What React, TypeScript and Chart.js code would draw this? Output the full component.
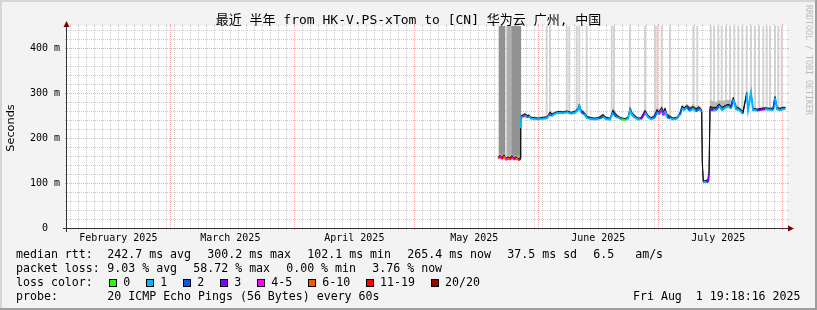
import React, { useEffect, useRef } from 'react';
import { Chart, registerables } from 'chart.js';

Chart.register(...registerables);

// ---------- texts ----------
const TITLE = '最近 半年 from HK-V.PS-xTom to [CN] 华为云 广州, 中国';
const Y_AXIS_TITLE = 'Seconds';
const SIDE_TEXT = 'RRDTOOL / TOBI OETIKER';

// ---------- axes (x in days since 2025-02-01 00:00) ----------
const X_MIN = 2.175;
const X_MAX = 182.175;
const Y_MAX = 448.9;
const monthStarts = [0, 28, 59, 89, 120, 150, 181];
const monthLabels = ['February 2025', 'March 2025', 'April 2025', 'May 2025', 'June 2025', 'July 2025'];
const yTickValues = [0, 100, 200, 300, 400];
const yTickLabels = ['0  ', '100 m', '200 m', '300 m', '400 m'];

// ---------- series ----------
const days = [
  110.0, 110.43, 110.93, 111.43, 111.93, 112.43, 112.93, 113.43, 113.93, 114.43,
  114.93, 115.43, 115.6, 115.75, 116.18, 116.68, 117.18, 117.68, 118.18, 119.18,
  120.18, 120.43, 121.18, 122.18, 122.68, 122.93, 123.43, 124.18, 125.18, 126.18,
  127.18, 128.18, 129.18, 129.93, 130.25, 130.68, 131.43, 132.18, 133.18, 134.18,
  135.18, 136.18, 136.93, 137.93, 138.68, 139.43, 140.18, 140.93, 141.68, 142.43,
  142.93, 143.43, 144.18, 144.93, 145.68, 146.68, 147.43, 148.18, 148.93, 149.68,
  150.18, 150.85, 151.3, 151.68, 152.18, 152.93, 153.68, 154.68, 155.43, 155.93,
  156.43, 157.18, 157.93, 158.68, 159.43, 160.18, 160.85, 161.0, 161.25, 161.93,
  162.43, 162.68, 162.93, 163.68, 164.43, 165.18, 165.93, 166.68, 167.43, 168.18,
  168.75, 169.43, 170.18, 171.18, 172.1, 172.43, 173.18, 173.68, 174.68, 175.68,
  176.68, 177.68, 178.68, 179.18, 179.68, 180.43, 181.18, 181.8,
];
const median = [
  155, 158, 153, 160, 151, 154, 152, 157, 152, 155,
  151, 152, 222, 246, 247, 249, 246, 248, 243, 242,
  241, 242, 243, 244, 250, 253, 249, 254, 256, 255,
  257, 254, 256, 262, 271, 258, 253, 244, 242, 241,
  243, 247, 242, 241, 257, 247, 244, 241, 240, 243,
  262, 251, 245, 241, 242, 256, 246, 242, 244, 257,
  252, 262, 250, 260, 246, 244, 241, 243, 252, 266,
  262, 268, 260, 265, 259, 264, 258, 144, 101, 103,
  102, 120, 264, 261, 262, 271, 262, 267, 270, 266,
  286, 264, 262, 254, 299, 262, 300, 262, 261, 263,
  264, 263, 262, 289, 264, 262, 264, 265,
];
// loss bucket index into lossLabels
const lossIdx = [
  5, 6, 4, 6, 5, 4, 5, 6, 4, 6,
  5, 6, 3, 1, 1, 4, 1, 2, 1, 1,
  1, 0, 1, 1, 1, 4, 2, 1, 1, 1,
  1, 1, 1, 1, 1, 1, 2, 1, 1, 1,
  1, 2, 1, 1, 1, 2, 1, 1, 0, 1,
  1, 1, 1, 1, 1, 3, 1, 1, 1, 2,
  1, 4, 2, 4, 1, 2, 1, 1, 1, 2,
  1, 1, 2, 1, 1, 2, 1, 1, 1, 1,
  2, 3, 3, 3, 1, 2, 1, 1, 1, 1,
  2, 1, 1, 1, 1, 1, 1, 1, 1, 3,
  3, 1, 1, 2, 1, 1, 1, 1,
];
const smokeHi = [
  158, 161, 157, 163, 155, 158, 156, 161, 155, 159,
  154, 156, 226, 250, 251, 254, 250, 251, 246, 245,
  244, 245, 246, 247, 254, 258, 253, 257, 259, 258,
  260, 257, 259, 266, 275, 262, 257, 248, 245, 244,
  246, 252, 246, 244, 262, 252, 247, 244, 243, 246,
  267, 256, 249, 244, 245, 261, 250, 245, 248, 263,
  258, 268, 258, 266, 252, 248, 244, 246, 256, 271,
  267, 272, 266, 270, 265, 269, 262, 148, 104, 106,
  106, 124, 270, 268, 268, 276, 268, 272, 275, 272,
  290, 269, 266, 259, 301, 266, 302, 266, 264, 266,
  267, 266, 266, 292, 268, 266, 268, 268,
];
const smokeUp = [
  162, 166, 160, 168, 158, 161, 160, 165, 159, 163,
  158, 160, 228, 252, 254, 256, 252, 253, 248, 247,
  246, 247, 248, 250, 258, 262, 256, 259, 261, 260,
  262, 259, 262, 270, 278, 265, 260, 250, 247, 246,
  248, 255, 248, 246, 268, 256, 250, 246, 245, 249,
  272, 260, 252, 246, 247, 266, 253, 247, 252, 268,
  264, 272, 264, 270, 256, 251, 246, 248, 259, 275,
  271, 276, 270, 275, 270, 273, 266, 150, 106, 108,
  110, 126, 284, 282, 280, 284, 282, 284, 285, 284,
  293, 276, 270, 263, 303, 270, 304, 268, 266, 268,
  269, 268, 268, 294, 270, 268, 270, 270,
];
// outlier smoke (pings far above the median), drawn up to the top
const SMOKE_CEIL = 449;
const outlierDays = [
  122.1, 122.93, 127.1, 127.75, 129.6, 130.25, 132.1, 138.35, 138.93, 142.93,
  146.68, 149.18, 149.75, 150.85, 152.93, 158.75, 159.75, 163.1, 163.93, 165.0,
  165.85, 166.93, 167.93, 169.0, 170.0, 171.0, 172.1, 173.18, 174.18, 175.18,
  176.25, 177.1, 177.93, 179.18, 180.0, 180.85,
];
const outlierLow = [
  250, 258, 260, 258, 262, 275, 250, 250, 255, 267,
  261, 250, 263, 268, 248, 270, 268, 270, 268, 272,
  268, 272, 275, 290, 266, 262, 301, 302, 266, 266,
  267, 268, 266, 292, 268, 268,
];
const heavyDays = [110.55, 111.3, 113.8, 114.55, 115.25];
const heavyLow = [160, 162, 160, 160, 158];
const mediumDays = [112.5, 113.13];
const mediumLow = [158, 158];

// ---------- legend ----------
const lossLabels = ['0', '1', '2', '3', '4-5', '6-10', '11-19', '20/20'];
const lossColors = ['#26ff00', '#00b8ff', '#0059ff', '#7e00ff', '#ff00ff', '#ff5500', '#ff0000', '#a10000'];
const medianStats = ['242.7 ms avg', '300.2 ms max', '102.1 ms min', '265.4 ms now', '37.5 ms sd', '6.5   am/s'];
const lossStats = ['9.03 % avg', '58.72 % max', '0.00 % min', '3.76 % now'];
const probeText = '20 ICMP Echo Pings (56 Bytes) every 60s';
const dateText = 'Fri Aug  1 19:18:16 2025';

// layout of legend pieces
const MED_X = [107.3, 207.3, 307.3, 407.3, 507.3, 593.3];
const LOSS_X = [107.3, 193.3, 286.2, 372.3];
const BOX_X = [108.7, 145.7, 182.7, 219.7, 256.7, 307.6, 365.5, 430.5];

const MONO = '"DejaVu Sans Mono", monospace';

const rrdPlugin = {
  id: 'rrdLook',
  beforeDraw(chart: any) {
    const { ctx, width, height, chartArea: a } = chart;
    ctx.save();
    ctx.fillStyle = '#f3f3f3';
    ctx.fillRect(0, 0, width, height);
    ctx.fillStyle = '#d6d6d6';
    ctx.fillRect(0, 0, width, 2);
    ctx.fillRect(0, 0, 2, height);
    ctx.fillStyle = '#9e9e9e';
    ctx.fillRect(0, height - 2, width, 2);
    ctx.fillRect(width - 2, 0, 2, height);
    ctx.fillStyle = '#ffffff';
    ctx.fillRect(a.left, a.top, a.right - a.left, a.bottom - a.top);
    ctx.restore();
  },
  beforeDatasetsDraw(chart: any) {
    const { ctx, chartArea: a, scales } = chart;
    const xs = scales.x;
    const ys = scales.y;
    const minorC = '#cfcfcf';
    const majorC = '#eea8a8';
    ctx.save();
    ctx.lineWidth = 1;
    const hline = (py: number, c: string, dash: boolean) => {
      ctx.strokeStyle = c;
      ctx.setLineDash(dash ? [1, 1] : []);
      ctx.beginPath();
      ctx.moveTo(a.left, py);
      ctx.lineTo(a.right, py);
      ctx.stroke();
      ctx.setLineDash([]);
      ctx.beginPath();
      ctx.moveTo(a.left - 2, py);
      ctx.lineTo(a.left, py);
      ctx.moveTo(a.right, py);
      ctx.lineTo(a.right + 2, py);
      ctx.stroke();
    };
    const vline = (px: number, c: string) => {
      ctx.strokeStyle = c;
      ctx.setLineDash([1, 1]);
      ctx.beginPath();
      ctx.moveTo(px, a.top);
      ctx.lineTo(px, a.bottom);
      ctx.stroke();
      ctx.setLineDash([]);
      ctx.beginPath();
      ctx.moveTo(px, a.top - 2);
      ctx.lineTo(px, a.top);
      ctx.moveTo(px, a.bottom);
      ctx.lineTo(px, a.bottom + 2);
      ctx.stroke();
    };
    for (let v = 20; v < Y_MAX; v += 20) {
      if (v % 100 === 0) continue;
      hline(Math.round(ys.getPixelForValue(v)) + 0.5, minorC, true);
    }
    for (let d = 3; d < X_MAX; d += 2) {
      if (monthStarts.includes(d)) continue;
      const px = Math.round(xs.getPixelForValue(d)) + 0.5;
      if (px <= a.left || px >= a.right) continue;
      vline(px, minorC);
    }
    yTickValues.forEach((v) => {
      if (v === 0) return;
      hline(Math.round(ys.getPixelForValue(v)) + 0.5, majorC, true);
    });
    monthStarts.forEach((d) => {
      const px = Math.round(xs.getPixelForValue(d)) + 0.5;
      if (px <= a.left || px >= a.right) return;
      vline(px, majorC);
    });
    ctx.restore();
  },
  afterDatasetsDraw(chart: any) {
    const { ctx, chartArea: a, scales, width } = chart;
    const xs = scales.x;
    const ys = scales.y;
    ctx.save();
    // axes
    const y0 = Math.round(ys.getPixelForValue(0)) + 0.5;
    const x0 = a.left - 0.5;
    ctx.strokeStyle = '#333333';
    ctx.lineWidth = 1;
    ctx.beginPath();
    ctx.moveTo(a.left - 4, y0);
    ctx.lineTo(a.right + 2, y0);
    ctx.moveTo(x0, a.bottom + 4);
    ctx.lineTo(x0, a.top - 2);
    ctx.stroke();
    ctx.fillStyle = '#7f0000';
    ctx.beginPath();
    ctx.moveTo(x0, a.top - 5);
    ctx.lineTo(x0 - 3, a.top + 1);
    ctx.lineTo(x0 + 3, a.top + 1);
    ctx.closePath();
    ctx.fill();
    ctx.beginPath();
    ctx.moveTo(a.right + 7, y0);
    ctx.lineTo(a.right + 1, y0 - 3);
    ctx.lineTo(a.right + 1, y0 + 3);
    ctx.closePath();
    ctx.fill();

    // y tick labels
    ctx.fillStyle = '#000';
    ctx.font = '10px ' + MONO;
    ctx.textAlign = 'right';
    ctx.textBaseline = 'middle';
    yTickValues.forEach((v, i) => {
      ctx.fillText(yTickLabels[i], 60, ys.getPixelForValue(v) + 0.5);
    });
    // month labels
    ctx.textAlign = 'center';
    monthLabels.forEach((lab, i) => {
      ctx.fillText(lab, xs.getPixelForValue(monthStarts[i] + 15), 238);
    });

    // title
    ctx.font = '13px "DejaVu Sans Mono", "Noto Sans CJK SC", monospace';
    ctx.fillText(TITLE, width / 2, 21);

    // y axis title
    ctx.save();
    ctx.translate(11, 128);
    ctx.rotate(-Math.PI / 2);
    ctx.font = '11.3px "DejaVu Sans", sans-serif';
    ctx.fillText(Y_AXIS_TITLE, 0, 0);
    ctx.restore();

    // side credit
    ctx.save();
    ctx.translate(808.5, 60);
    ctx.rotate(Math.PI / 2);
    ctx.fillStyle = '#bcbcbc';
    ctx.font = '8.3px ' + MONO;
    ctx.fillText(SIDE_TEXT, 0, 0);
    ctx.restore();

    // legend
    ctx.font = '11.6px ' + MONO;
    ctx.textAlign = 'left';
    ctx.fillStyle = '#000';
    ctx.fillText('median rtt:', 16, 254.5);
    medianStats.forEach((s, i) => ctx.fillText(s, MED_X[i], 254.5));
    ctx.fillText('packet loss:', 16, 268.5);
    lossStats.forEach((s, i) => ctx.fillText(s, LOSS_X[i], 268.5));
    ctx.fillText('loss color:', 16, 282.5);
    lossLabels.forEach((s, i) => {
      const bx = Math.round(BOX_X[i]);
      ctx.fillStyle = lossColors[i];
      ctx.fillRect(bx, 279, 8, 8);
      ctx.strokeStyle = '#000';
      ctx.strokeRect(bx + 0.5, 279.5, 7, 7);
      ctx.fillStyle = '#000';
      ctx.fillText(s, BOX_X[i] + 14.6, 282.5);
    });
    ctx.fillText('probe:', 16, 296.5);
    ctx.fillText(probeText, 107.3, 296.5);
    ctx.textAlign = 'right';
    ctx.fillText(dateText, 800.5, 296.5);
    ctx.restore();
  },
};

export default function App() {
  const ref = useRef<HTMLCanvasElement>(null);
  useEffect(() => {
    if (!ref.current) return;
    const pts = (vals: number[]) => days.map((d, i) => ({ x: d, y: vals[i] }));
    const chart = new Chart(ref.current, {
      type: 'bar',
      data: {
        datasets: [
          {
            type: 'bar',
            label: 'outliers',
            data: outlierDays.map((d, i) => ({ x: d, y: [outlierLow[i], SMOKE_CEIL] })) as any,
            backgroundColor: '#d2d2d2',
            barThickness: 1.3,
            grouped: false,
            order: 6,
          },
          {
            type: 'bar',
            label: 'loss smoke',
            data: mediumDays.map((d, i) => ({ x: d, y: [mediumLow[i], SMOKE_CEIL] })) as any,
            backgroundColor: '#b0b0b0',
            barThickness: 3,
            grouped: false,
            order: 6,
          },
          {
            type: 'bar',
            label: 'loss smoke heavy',
            data: heavyDays.map((d, i) => ({ x: d, y: [heavyLow[i], SMOKE_CEIL] })) as any,
            backgroundColor: '#929292',
            barThickness: 3,
            grouped: false,
            order: 5,
          },
          {
            type: 'line',
            label: 'smoke upper',
            data: pts(smokeUp) as any,
            borderWidth: 0,
            borderColor: 'rgba(0,0,0,0)',
            backgroundColor: '#b8b8b8',
            fill: '+1',
            pointRadius: 0,
            order: 4,
          },
          {
            type: 'line',
            label: 'smoke',
            data: pts(smokeHi) as any,
            borderWidth: 1,
            borderColor: '#111111',
            backgroundColor: '#4a4a4a',
            fill: '+1',
            pointRadius: 0,
            order: 3,
          },
          {
            type: 'line',
            label: 'median rtt',
            data: pts(median) as any,
            borderWidth: 2,
            borderColor: lossColors[1],
            fill: false,
            pointRadius: 0,
            order: 1,
            segment: {
              borderColor: (c: any) => {
                const i = c.p0DataIndex;
                const j = c.p1DataIndex;
                if (Math.abs(median[j] - median[i]) > 40) return '#111111';
                return lossColors[lossIdx[j]];
              },
              borderWidth: (c: any) => {
                const i = c.p0DataIndex;
                const j = c.p1DataIndex;
                return Math.abs(median[j] - median[i]) > 40 ? 1 : 2;
              },
            },
          },
        ],
      },
      options: {
        animation: false,
        responsive: false,
        devicePixelRatio: 1,
        layout: { padding: { left: 67, right: 30, top: 26, bottom: 82 }, autoPadding: false } as any,
        plugins: {
          legend: { display: false },
          tooltip: { enabled: false },
          title: { display: false },
        },
        scales: {
          x: { type: 'linear', min: X_MIN, max: X_MAX, display: false, offset: false },
          y: { type: 'linear', min: 0, max: Y_MAX, display: false },
        },
      } as any,
      plugins: [rrdPlugin],
    });
    return () => chart.destroy();
  }, []);
  return (
    <div style={{ position: 'absolute', left: 0, top: 0, width: 817, height: 310 }}>
      <canvas ref={ref} width={817} height={310} style={{ display: 'block', width: 817, height: 310 }} />
    </div>
  );
}
